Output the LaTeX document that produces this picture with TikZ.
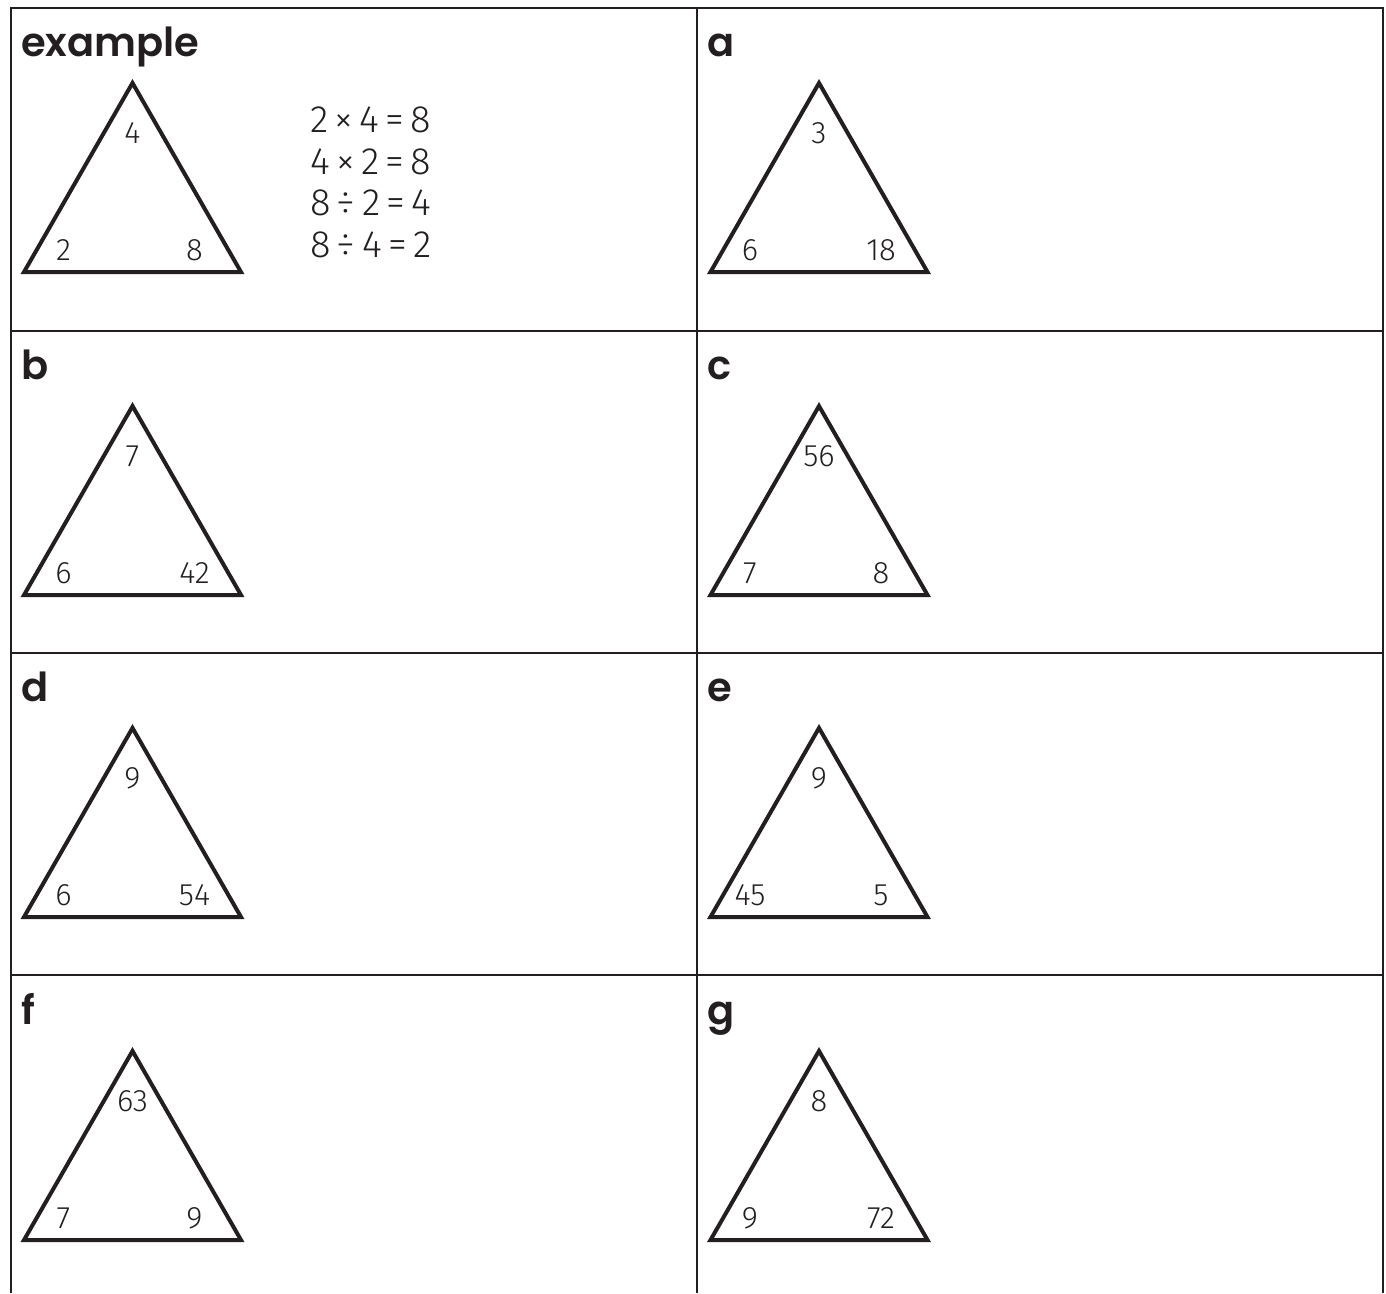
\documentclass[tikz,border=0pt]{standalone}
\usepackage{fontspec}
\newfontfamily\labfont{Poppins SemiBold}
\newfontfamily\numfont{Fira Sans Light}
\definecolor{ink}{HTML}{231F20}
\tikzset{
  gridline/.style={draw=ink, line width=2.6pt},
  triline/.style={draw=ink, line width=4pt, line join=miter},
  lab/.style={anchor=base west, inner sep=0pt, font=\labfont\fontsize{40}{48}\selectfont, text=ink},
  num/.style={inner sep=0pt, font=\numfont\fontsize{31}{36}\selectfont, text=ink},
  hand/.style={anchor=base west, inner sep=0pt, font=\numfont\fontsize{38}{44}\selectfont, text=ink}
}
\newcommand{\mytri}[6]{%
  \coordinate (#1-t) at (#2,#3);
  \coordinate (#1-l) at ($(#2,#3)+(-108.5,189)$);
  \coordinate (#1-r) at ($(#2,#3)+(108.5,189)$);
  \draw[triline] (#1-t) -- (#1-l) -- (#1-r) -- cycle;
  \node[num] (#1-nt) at ($(#2,#3)+(0,50)$) {#4};
  \node[num] (#1-nl) at ($(#2,#3)+(-69,167)$) {#5};
  \node[num] (#1-nr) at ($(#2,#3)+(62,167)$) {#6};
}
\usetikzlibrary{calc}
\begin{document}
\begin{tikzpicture}[x=1pt,y=-1pt]
\useasboundingbox (0,0) rectangle (1386,1293);
% grid
\coordinate (tl) at (11,8);
\coordinate (tr) at (1383,8);
\coordinate (bl) at (11,1293);
\coordinate (br) at (1383,1293);
\coordinate (mt) at (697,8);
\coordinate (mb) at (697,1293);
\draw[gridline] (bl) -- (tl) -- (tr) -- (br);
\draw[gridline] (mt) -- (mb);
\foreach \yy in {331,653,975}{
  \draw[gridline] (11,\yy) -- (1383,\yy);
}
% labels
\node[lab] (Lex) at (21,56) {example};
\node[lab] (La) at (707,56) {a};
\node[lab] (Lb) at (21,379) {b};
\node[lab] (Lc) at (707,379) {c};
\node[lab] (Ld) at (21,701) {d};
\node[lab] (Le) at (707,701) {e};
\node[lab] (Lf) at (21,1024) {f};
\node[lab] (Lg) at (707,1024) {g};
% triangles
\mytri{ex}{132.5}{83}{4}{2}{8}
\mytri{a}{819}{83}{3}{6}{18}
\mytri{b}{132.5}{406}{7}{6}{42}
\mytri{c}{819}{406}{56}{7}{8}
\mytri{d}{132.5}{728}{9}{6}{54}
\mytri{e}{819}{728}{9}{45}{5}
\mytri{f}{132.5}{1051}{63}{7}{9}
\mytri{g}{819}{1051}{8}{9}{72}
% handwritten facts
\node[hand] (h1) at (310,132) {2\,×\,4\,=\,8};
\node[hand] (h2) at (310,174) {4\,×\,2\,=\,8};
\node[hand] (h3) at (310,215) {8\,÷\,2\,=\,4};
\node[hand] (h4) at (310,257) {8\,÷\,4\,=\,2};
\end{tikzpicture}
\end{document}
